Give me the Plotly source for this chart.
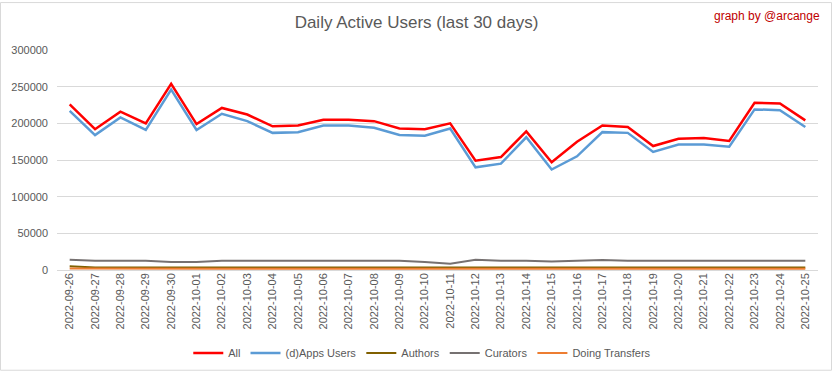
import plotly.graph_objects as go

dates = ["2022-09-26","2022-09-27","2022-09-28","2022-09-29","2022-09-30","2022-10-01",
         "2022-10-02","2022-10-03","2022-10-04","2022-10-05","2022-10-06","2022-10-07",
         "2022-10-08","2022-10-09","2022-10-10","2022-10-11","2022-10-12","2022-10-13",
         "2022-10-14","2022-10-15","2022-10-16","2022-10-17","2022-10-18","2022-10-19",
         "2022-10-20","2022-10-21","2022-10-22","2022-10-23","2022-10-24","2022-10-25"]

all_users = [226000,192000,216000,200000,254000,199000,221000,212000,196000,197000,
             205000,205000,203000,193000,192000,200000,149000,154000,189000,147000,
             175000,197000,195000,169000,179000,180000,176000,228000,227000,204000]
dapps_users = [217000,184000,208000,191000,246000,191000,213000,203000,187000,188000,
               197000,197000,194000,184000,183000,193000,140000,145000,181000,137000,
               155000,188000,187000,161000,171000,171000,168000,219000,218000,195000]
authors = [5000,3500,3500,3500,3500,3500,3500,3500,3500,3500,
           3500,3500,3500,3500,3500,3500,3500,3500,3500,3500,
           3500,3500,3500,3500,3500,3000,2500,3500,3500,3500]
curators = [14000,12500,12500,12500,11000,11000,12500,12500,12500,12500,
            12500,12500,12500,12500,11000,8500,14000,12500,12500,11500,
            12500,13500,12500,12500,11500,11500,11500,12500,12500,12500]
doing_transfers = [2000,1800,1800,1800,1800,1800,1800,1800,1800,1800,
                   1800,1800,1800,1800,1800,1800,1800,1800,1800,1800,
                   1800,1800,1800,1800,1800,1800,1800,1800,1800,1800]

y_ticks = [0, 50000, 100000, 150000, 200000, 250000, 300000]

FONT = "Liberation Sans, Arial, sans-serif"
GRAY = "#595959"

series = [
    ("All", all_users, "#ff0000", 2.5),
    ("(d)Apps Users", dapps_users, "#5b9bd5", 2.5),
    ("Authors", authors, "#806000", 2),
    ("Curators", curators, "#767171", 2),
    ("Doing Transfers", doing_transfers, "#ed7d31", 2),
]

fig = go.Figure()
for name, vals, color, w in series:
    fig.add_trace(go.Scatter(x=dates, y=vals, mode="lines", name=name,
                             line=dict(color=color, width=w)))

fig.update_layout(
    width=833, height=379,
    margin=dict(l=57, r=15, t=50, b=104),
    paper_bgcolor="white", plot_bgcolor="white",
    font=dict(family=FONT, color=GRAY, size=10),
    title=dict(text="Daily Active Users (last 30 days)", x=0.5, xanchor="center",
               y=1 - 22/379, yanchor="middle",
               font=dict(family=FONT, size=17, color=GRAY)),
    showlegend=True,
    legend=dict(orientation="h", x=0.48, xanchor="center", y=-85/225, yanchor="middle",
                font=dict(family=FONT, size=11, color=GRAY), itemwidth=30,
                traceorder="normal"),
    xaxis=dict(type="category", range=[-0.5, 29.5], tickangle=-90,
               showgrid=False, showline=False, ticks="", automargin=False,
               tickfont=dict(family=FONT, size=11, color=GRAY)),
    yaxis=dict(range=[0, 300000], tickvals=y_ticks, ticktext=[str(v) for v in y_ticks],
               showgrid=True, gridcolor="#d9d9d9", gridwidth=1,
               zeroline=True, zerolinecolor="#d9d9d9", zerolinewidth=1,
               showline=False, ticks="", ticklabelstandoff=8, automargin=False,
               tickfont=dict(family=FONT, size=11, color=GRAY)),
)

fig.add_shape(type="rect", xref="x domain", yref="y domain",
              x0=-56.5/761, x1=1 + 13.5/761, y0=-102.5/225, y1=1 + 48.5/225,
              line=dict(color="#d9d9d9", width=1), layer="below")

fig.add_annotation(text="graph by @arcange", xref="paper", yref="paper",
                   x=1 + 4/761, xanchor="right", y=1 + 35/225, yanchor="middle",
                   showarrow=False, font=dict(family=FONT, size=12, color="#c00000"))

fig.write_html("out.html", config={"displayModeBar": False},
               post_script="document.body.style.margin='0';document.body.style.overflow='hidden';")
